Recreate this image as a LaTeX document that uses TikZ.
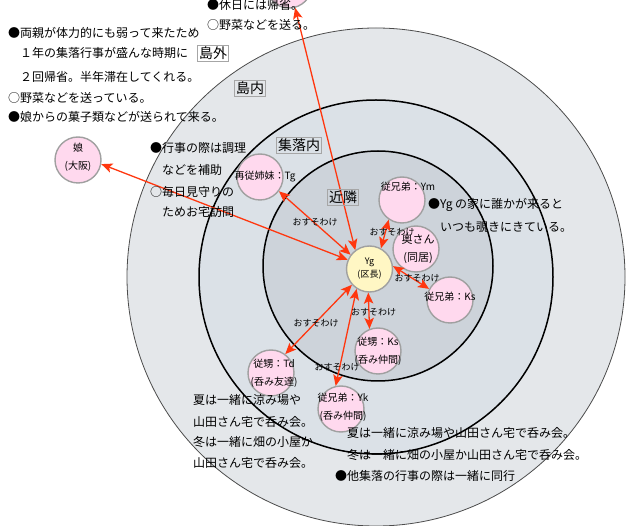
\documentclass[tikz,border=0pt]{standalone}
\usepackage{fontspec}
\setmainfont{Noto Sans CJK JP}
\usetikzlibrary{arrows.meta}
\definecolor{ringA}{RGB}{228,231,234}
\definecolor{ringB}{RGB}{219,225,231}
\definecolor{ringC}{RGB}{205,211,218}
\definecolor{pinkfill}{RGB}{255,217,238}
\definecolor{ygfill}{RGB}{255,247,196}
\definecolor{arr}{RGB}{255,55,15}
\definecolor{nodeedge}{RGB}{160,160,160}
\begin{document}
\begin{tikzpicture}[x=1pt,y=-1pt,
  person/.style={circle, draw=nodeedge, line width=1.4pt, fill=pinkfill, minimum size=46pt, inner sep=0pt},
  lbl/.style={font=\fontsize{10}{18}\selectfont, align=center, inner sep=0pt},
  share/.style={arr, line width=1.3pt, {Stealth[length=11pt,width=9.5pt,inset=2.5pt]}-{Stealth[length=11pt,width=9.5pt,inset=2.5pt]}},
  osu/.style={font=\fontsize{9}{9}\selectfont, inner sep=0pt},
  txt/.style={font=\fontsize{12}{12}\selectfont, anchor=west, inner sep=0pt},
  area/.style={draw=gray!70, line width=0.8pt, font=\fontsize{14}{14}\selectfont, inner sep=1.5pt},
]
\useasboundingbox (0,0) rectangle (627,526);
\clip (0,0) rectangle (627,526);
% rings
\filldraw[fill=ringA, draw=gray!60!black, line width=0.8pt] (376,277) circle[radius=249pt];
\filldraw[fill=ringB, draw=black, line width=1.5pt] (376,277) circle[radius=177pt];
\filldraw[fill=ringC, draw=black, line width=1.5pt] (378,266) circle[radius=115pt];
% persons
\node[person, label={[lbl, yshift=2.5pt]center:娘\\(大阪)}] (musume) at (78,160) {};
\node[person, label={[lbl, xshift=5pt]center:再従姉妹：Tg}] (tg) at (260,177) {};
\node[person, fill=ygfill, label={[lbl, font=\fontsize{9}{13}\selectfont]center:Yg\\(区長)}] (yg) at (369.5,269) {};
\node[person, label={[lbl, xshift=6pt, yshift=13pt]center:従兄弟：Ym}] (ym) at (402,200) {};
\node[person, label={[lbl, font=\fontsize{11}{18}\selectfont, xshift=2pt]center:奥さん\\(同居)}] (oku) at (416,249) {};
\node[person, label={[lbl, yshift=3pt]center:従兄弟：Ks}] (ks) at (450,300) {};
\node[person, label={[lbl]center:従甥：Ks\\(呑み仲間)}] (fks) at (378,351) {};
\node[person, label={[lbl, xshift=3pt]center:従甥：Td\\(呑み友達)}] (td) at (271,373) {};
\node[person, label={[lbl, xshift=2pt, yshift=1.5pt]center:従兄弟：Yk\\(呑み仲間)}] (yk) at (341,409) {};
\node[person] (top) at (289,-15) {};
% connectors
\draw[share] (yg.127) -- (top.285);
\draw[share] (yg.157) -- (musume.-10);
\draw[share] (yg.143) -- (tg.-37);
\draw[share] (yg.61) -- (ym.236);
\draw[share] (yg.7) -- (ks.152);
\draw[share] (yg.267) -- (fks.111);
\draw[share] (yg.222) -- (td.53);
\draw[share] (yg.237) -- (yk.103);
% connector labels
\node[osu] (o1) at (315,222) {おすそわけ};
\node[osu] (o2) at (392,232) {おすそわけ};
\node[osu] (o3) at (417,278) {おすそわけ};
\node[osu] (o4) at (373.5,312) {おすそわけ};
\node[osu] (o5) at (316,323) {おすそわけ};
\node[osu] (o6) at (337,367) {おすそわけ};
% area boxes
\node[area] (shimagai) at (213,53) {島外};
\node[area] (shimanai) at (250,88) {島内};
\node[area] (shuraku) at (299,145) {集落内};
\node[area] (kinrin) at (343,197) {近隣};
% texts
\node[txt] (ta1) at (207,5) {●休日には帰省。};
\node[txt] (ta2) at (207,25) {○野菜などを送る。};
\node[txt] (tb1) at (8,33) {●両親が体力的にも弱って来たため};
\node[txt] (tb2) at (8,53) {　１年の集落行事が盛んな時期に};
\node[txt] (tb3) at (8,77) {　２回帰省。半年滞在してくれる。};
\node[txt] (tb4) at (8,98) {○野菜などを送っている。};
\node[txt] (tb5) at (8,117) {●娘からの菓子類などが送られて来る。};
\node[txt] (tc1) at (150,148) {●行事の際は調理};
\node[txt] (tc2) at (150,170) {　などを補助};
\node[txt] (tc3) at (150,192) {○毎日見守りの};
\node[txt] (tc4) at (150,212) {　ためお宅訪問};
\node[txt] (td1) at (428,205) {●Yg の家に誰かが来ると};
\node[txt] (td2) at (428,227) {　いつも覗きにきている。};
\node[txt] (te1) at (193,400) {夏は一緒に涼み場や};
\node[txt] (te2) at (193,422) {山田さん宅で呑み会。};
\node[txt] (te3) at (193,442) {冬は一緒に畑の小屋か};
\node[txt] (te4) at (193,463) {山田さん宅で呑み会。};
\node[txt] (tf1) at (335,433) {　夏は一緒に涼み場や山田さん宅で呑み会。};
\node[txt] (tf2) at (335,455) {　冬は一緒に畑の小屋か山田さん宅で呑み会。};
\node[txt] (tf3) at (335,476) {●他集落の行事の際は一緒に同行};
\end{tikzpicture}
\end{document}
